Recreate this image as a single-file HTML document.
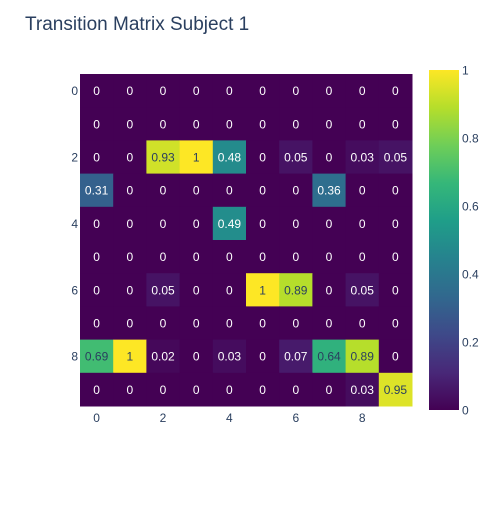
<!DOCTYPE html>
<html><head><meta charset="utf-8"><style>
body{margin:0;background:#fff;font-family:"Liberation Sans",Arial,sans-serif}
</style></head><body>
<svg id="c" width="500" height="500" xmlns="http://www.w3.org/2000/svg">
<rect width="500" height="500" fill="#fff"/>
<text x="25" y="30" font-size="19" fill="#2a3f5f">Transition Matrix Subject 1</text>
<defs><linearGradient id="vg" x1="0" y1="1" x2="0" y2="0">
<stop offset="0" stop-color="#440154"/><stop offset="0.111" stop-color="#482878"/><stop offset="0.222" stop-color="#3e4989"/><stop offset="0.333" stop-color="#31688e"/><stop offset="0.444" stop-color="#26828e"/><stop offset="0.556" stop-color="#1f9e89"/><stop offset="0.667" stop-color="#35b779"/><stop offset="0.778" stop-color="#6ece58"/><stop offset="0.889" stop-color="#b5de2b"/><stop offset="1" stop-color="#fde725"/>
</linearGradient></defs>
<g id="cells"></g>
<rect x="429" y="70" width="30" height="340" fill="url(#vg)"/>
<g id="cb" font-size="12" fill="#2a3f5f"></g>
<g id="ax" font-size="12" fill="#2a3f5f"></g>
</svg>
<script>
const rows=[0,1,2,3,4,5,6,7,8,9];
const cols=[0,1,2,3,4,5,6,7,8,9];
const z=[
[0,0,0,0,0,0,0,0,0,0],
[0,0,0,0,0,0,0,0,0,0],
[0,0,0.93,1,0.48,0,0.05,0,0.03,0.05],
[0.31,0,0,0,0,0,0,0.36,0,0],
[0,0,0,0,0.49,0,0,0,0,0],
[0,0,0,0,0,0,0,0,0,0],
[0,0,0.05,0,0,1,0.89,0,0.05,0],
[0,0,0,0,0,0,0,0,0,0],
[0.69,1,0.02,0,0.03,0,0.07,0.64,0.89,0],
[0,0,0,0,0,0,0,0,0.03,0.95]];
const xTicks=[0,2,4,6,8];
const yTicks=[0,2,4,6,8];
const cbTicks=[0,0.2,0.4,0.6,0.8,1];
const X0=80,X1=412,Y0=74,Y1=406;
const cw=(X1-X0)/cols.length, ch=(Y1-Y0)/rows.length;
const xs=i=>X0+i*cw, ys=j=>Y0+j*ch;
const cbY=v=>410-v*340;
const stops=[[68,1,84],[72,40,120],[62,73,137],[49,104,142],[38,130,142],[31,158,137],[53,183,121],[110,206,88],[181,222,43],[253,231,37]];
function vir(v){v=Math.max(0,Math.min(1,v))*9;const i=Math.min(8,Math.floor(v)),t=v-i,a=stops[i],b=stops[i+1];
return 'rgb('+a.map((c,k)=>Math.round(c+(b[k]-c)*t)).join(',')+')';}
const NS='http://www.w3.org/2000/svg';
const g=document.getElementById('cells');
rows.forEach((r,j)=>cols.forEach((c,i)=>{
 const v=z[j][i];
 const rc=document.createElementNS(NS,'rect');
 rc.setAttribute('x',xs(i));rc.setAttribute('y',ys(j));rc.setAttribute('width',cw+0.5);rc.setAttribute('height',ch+0.5);
 rc.setAttribute('fill',vir(v));
 
 
 g.appendChild(rc);
 const t=document.createElementNS(NS,'text');
 t.setAttribute('x',xs(i)+cw/2);t.setAttribute('y',ys(j)+ch/2+4.5);
 t.setAttribute('text-anchor','middle');t.setAttribute('font-size','12');
 t.setAttribute('fill',v>0.55?'#2a3f5f':'#ffffff');
 t.textContent=String(v);
 
 
 g.appendChild(t);
}));
const ax=document.getElementById('ax');
xTicks.forEach(v=>{const t=document.createElementNS(NS,'text');
 t.setAttribute('x',xs(v)+cw/2);t.setAttribute('y',Y1+16);t.setAttribute('text-anchor','middle');t.textContent=v;
 
 
 ax.appendChild(t);});
yTicks.forEach(v=>{const t=document.createElementNS(NS,'text');
 t.setAttribute('x',X0-2);t.setAttribute('y',ys(v)+ch/2+4.5);t.setAttribute('text-anchor','end');t.textContent=v;
 
 
 ax.appendChild(t);});
const cb=document.getElementById('cb');
cbTicks.forEach(v=>{const t=document.createElementNS(NS,'text');
 t.setAttribute('x',462);t.setAttribute('y',cbY(v)+4.5);t.textContent=String(v);
 
 
 cb.appendChild(t);});
</script>
</body></html>
